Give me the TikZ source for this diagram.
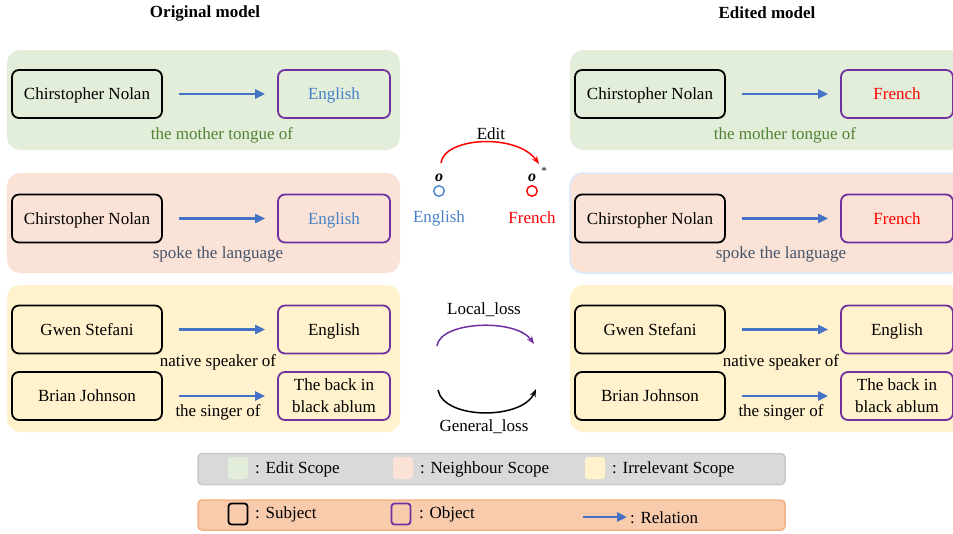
\documentclass[tikz,border=0pt]{standalone}
\usepackage{fontspec}
\setmainfont{Liberation Serif}
\usetikzlibrary{arrows.meta}
\definecolor{pgreen}{RGB}{226,238,217}
\definecolor{ppink}{RGB}{250,227,214}
\definecolor{pyellow}{RGB}{255,242,204}
\definecolor{objpurple}{RGB}{112,48,160}
\definecolor{relblue}{RGB}{68,114,196}
\definecolor{engblue}{RGB}{70,130,200}
\definecolor{tgreen}{RGB}{84,130,53}
\definecolor{tslate}{RGB}{68,84,106}
\definecolor{lgray}{RGB}{217,217,217}
\definecolor{lgrayb}{RGB}{200,200,200}
\definecolor{lorange}{RGB}{248,203,173}
\definecolor{lorangeb}{RGB}{244,177,131}
\definecolor{pinkborder}{RGB}{218,232,252}
\begin{document}
\begin{tikzpicture}[x=1pt,y=-1pt, font=\fontsize{17}{20}\selectfont,
 panel/.style={rounded corners=13pt, minimum width=393pt, inner sep=0pt},
 subj/.style={draw=black, line width=1.8pt, rounded corners=7pt, minimum width=150pt, minimum height=48pt, inner sep=0pt, text depth=0pt},
 obj/.style={draw=objpurple, line width=1.8pt, rounded corners=7pt, minimum width=112pt, minimum height=48pt, inner sep=0pt, align=center, font=\fontsize{17}{22}\selectfont},
 obj1/.style={obj, text depth=0pt},
 rel/.style={draw=relblue, line width=2.6pt, -{Triangle[length=10pt,width=9pt]}},
 lbl/.style={inner sep=0pt},
 legbox/.style={rounded corners=4pt, line width=1.5pt, minimum width=587pt, inner sep=0pt},
 legsq/.style={rounded corners=3pt, minimum width=20pt, minimum height=22pt, inner sep=0pt},
 arc/.style={line width=1.5pt, -{Stealth[length=8pt,width=6pt]}},
]
\useasboundingbox (0,0) rectangle (953,533);

% titles
\node[lbl, font=\fontsize{17}{20}\selectfont\bfseries] (t1) at (205,13) {Original model};
\node[lbl, font=\fontsize{17}{20}\selectfont\bfseries] (t2) at (767,13) {Edited model};

% panels left
\node[panel, fill=pgreen, minimum height=100pt] (pl1) at (203.5,100) {};
\node[panel, fill=ppink, minimum height=100pt] (pl2) at (203.5,223) {};
\node[panel, fill=pyellow, minimum height=147pt] (pl3) at (203.5,358.5) {};
% panels right
\node[panel, fill=pgreen, minimum height=100pt] (pr1) at (766.5,100) {};
\node[panel, fill=ppink, draw=pinkborder, line width=1.5pt, minimum height=100pt] (pr2) at (766.5,223) {};
\node[panel, fill=pyellow, minimum height=147pt] (pr3) at (766.5,358.5) {};

% left boxes
\node[subj] (ls1) at (87,94) {Chirstopher Nolan};
\node[obj1, text=engblue] (lo1) at (334,94) {English};
\node[subj] (ls2) at (87,218.5) {Chirstopher Nolan};
\node[obj1, text=engblue] (lo2) at (334,218.5) {English};
\node[subj] (ls3) at (87,329.5) {Gwen Stefani};
\node[obj1] (lo3) at (334,329.5) {English};
\node[subj] (ls4) at (87,396) {Brian Johnson};
\node[obj] (lo4) at (334,396) {The back in\\black ablum};

% right boxes
\node[subj] (rs1) at (650,94) {Chirstopher Nolan};
\node[obj1, text=red] (ro1) at (897,94) {French};
\node[subj] (rs2) at (650,218.5) {Chirstopher Nolan};
\node[obj1, text=red] (ro2) at (897,218.5) {French};
\node[subj] (rs3) at (650,329.5) {Gwen Stefani};
\node[obj1] (ro3) at (897,329.5) {English};
\node[subj] (rs4) at (650,396) {Brian Johnson};
\node[obj] (ro4) at (897,396) {The back in\\black ablum};

% relations
\foreach \s/\o in {ls1/lo1,ls2/lo2,ls3/lo3,ls4/lo4,rs1/ro1,rs2/ro2,rs3/ro3,rs4/ro4}{
  \draw[rel] ([xshift=16pt]\s.east) -- ([xshift=-12pt]\o.west);
}

% relation labels
\node[lbl, text=tgreen] (lr1) at (222,135) {the mother tongue of};
\node[lbl, text=tslate] (lr2) at (218,254) {spoke the language};
\node[lbl] (lr3) at (218,362) {native speaker of};
\node[lbl] (lr4) at (218,412) {the singer of};
\node[lbl, text=tgreen] (rr1) at (785,135) {the mother tongue of};
\node[lbl, text=tslate] (rr2) at (781,254) {spoke the language};
\node[lbl] (rr3) at (781,362) {native speaker of};
\node[lbl] (rr4) at (781,412) {the singer of};

% middle
\node[lbl] (edit) at (491,134) {Edit};
\node[lbl, font=\fontsize{16}{20}\selectfont\bfseries\itshape] (oE) at (439,178) {o};
\node[lbl, font=\fontsize{16}{20}\selectfont\bfseries\itshape] (oF) at (532,178) {o};
\node[lbl, font=\fontsize{11}{12}\selectfont] (star) at (544,171) {*};
\node[circle, draw=engblue, line width=1.4pt, minimum size=10.5pt, inner sep=0pt] (cE) at (439,191) {};
\node[circle, draw=red, line width=1.4pt, minimum size=10.5pt, inner sep=0pt] (cF) at (532,191) {};
\node[lbl, text=engblue] (wE) at (439,218) {English};
\node[lbl, text=red] (wF) at (532,218) {French};
\coordinate (e1) at (441,163);
\coordinate (e2) at (539,164);
\draw[arc, draw=red] (e1) .. controls (444,137) and (517,133) .. (e2);

\node[lbl] (ll) at (484,310) {Local\_loss};
\coordinate (l1) at (437,346);
\coordinate (l2) at (534,344);
\draw[arc, draw=objpurple] (l1) .. controls (440,321) and (516,318) .. (l2);

\coordinate (g1) at (438,390);
\coordinate (g2) at (536,389);
\draw[arc, draw=black] (g1) .. controls (444,420) and (522,420) .. (g2);
\node[lbl] (gl) at (484,427) {General\_loss};

% legend
\node[legbox, fill=lgray, draw=lgrayb, minimum height=31pt] (leg1) at (491.5,469) {};
\node[legbox, fill=lorange, draw=lorangeb, minimum height=30pt] (leg2) at (491.5,515) {};
\node[legsq, fill=pgreen] (sq1) at (238,468) {};
\node[lbl, anchor=west] (tq1) at (255,469) {: Edit Scope};
\node[legsq, fill=ppink] (sq2) at (403,468) {};
\node[lbl, anchor=west] (tq2) at (420,469) {: Neighbour Scope};
\node[legsq, fill=pyellow] (sq3) at (595,468) {};
\node[lbl, anchor=west] (tq3) at (612,469) {: Irrelevant Scope};
\node[legsq, draw=black, line width=1.8pt, minimum width=19pt, minimum height=21pt] (sq4) at (238,514) {};
\node[lbl, anchor=west] (tq4) at (255,514) {: Subject};
\node[legsq, draw=objpurple, line width=1.8pt, minimum width=19pt, minimum height=21pt] (sq5) at (401,514) {};
\node[lbl, anchor=west] (tq5) at (419,514) {: Object};
\coordinate (ra) at (583,517);
\node[lbl, anchor=west] (tq6) at (630,518) {: Relation};
\draw[rel] (ra) -- ([xshift=-3pt]ra -| tq6.west);
\end{tikzpicture}
\end{document}
